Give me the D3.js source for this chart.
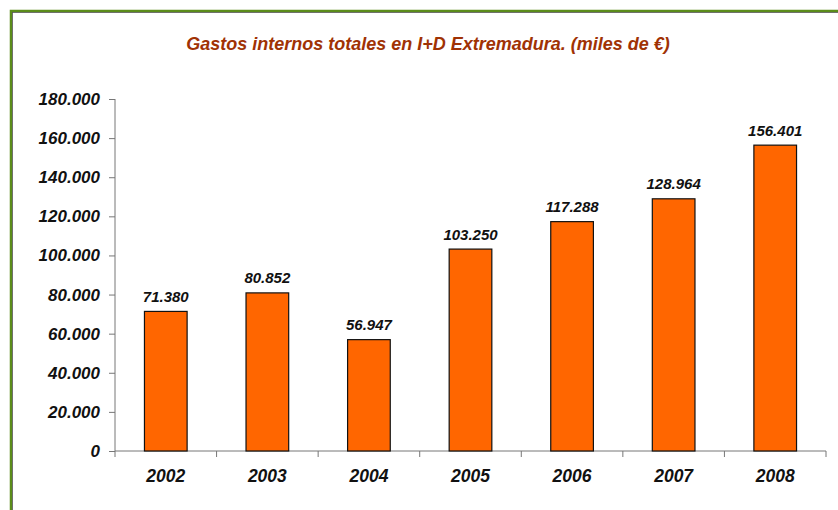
<!DOCTYPE html>
<html>
<head>
<meta charset="utf-8">
<script src="https://cdn.jsdelivr.net/npm/d3@7"></script>
<style>
  body { margin: 0; background: #fff; }
  text { font-family: "Liberation Sans", Arial, sans-serif; font-weight: bold; font-style: italic; }
</style>
</head>
<body>
<svg class="chart" width="838" height="510"></svg>
<script>
const years = ['2002', '2003', '2004', '2005', '2006', '2007', '2008']
const gastos = [71380, 80852, 56947, 103250, 117288, 128964, 156401]
const yTicks = [0, 20000, 40000, 60000, 80000, 100000, 120000, 140000, 160000, 180000]
const title = 'Gastos internos totales en I+D Extremadura. (miles de €)'

const fmt = d3.formatLocale({ decimal: ',', thousands: '.', grouping: [3], currency: ['', '€'] }).format(',d')

const svg = d3.select('.chart')

// marco verde
svg.append('rect')
.attr('x', 11).attr('y', 11)
.attr('width', 840).attr('height', 510)
.attr('fill', 'none')
.attr('stroke', '#5b8c1a')
.attr('stroke-width', 2.5)
svg.append('rect')
.attr('x', 12.5).attr('y', 12.5)
.attr('width', 840).attr('height', 510)
.attr('fill', 'none')
.attr('stroke', '#555')
.attr('stroke-width', 0.8)

const x = d3.scaleBand()
.domain(years)
.range([115, 826])
.padding(0)

const y = d3.scaleLinear()
.domain([0, 180000])
.range([451, 99])

const barW = x.bandwidth() * 0.42

svg.append('text')
.attr('x', 428)
.attr('y', 50)
.attr('text-anchor', 'middle')
.attr('fill', '#a03204')
.style('font-size', '18px')
.text(title)

// eje y
const yAxis = svg.append('g')
.attr('transform', 'translate(115,0)')
.call(d3.axisLeft(y).tickValues(yTicks).tickFormat(fmt).tickSize(6).tickPadding(9))
yAxis.select('.domain').attr('stroke', '#777').attr('d', 'M0,99V451')
yAxis.selectAll('.tick line').attr('stroke', '#777')
yAxis.selectAll('.tick text')
.attr('fill', '#111')
.style('font-size', '17px')
.style('font-family', '"Liberation Sans", Arial, sans-serif')

// eje x
svg.append('line')
.attr('x1', 115).attr('x2', 826)
.attr('y1', y(0)).attr('y2', y(0))
.attr('stroke', '#777')
svg.append('g')
.selectAll('line')
.data(years)
.enter()
.append('line')
.attr('x1', d => x(d) + x.bandwidth()).attr('x2', d => x(d) + x.bandwidth())
.attr('y1', y(0)).attr('y2', y(0) + 6)
.attr('stroke', '#777')
svg.append('line')
.attr('x1', 115).attr('x2', 115)
.attr('y1', y(0)).attr('y2', y(0) + 6)
.attr('stroke', '#777')

svg.append('g')
.selectAll('text')
.data(years)
.enter()
.append('text')
.attr('x', d => x(d) + x.bandwidth() / 2)
.attr('y', 482)
.attr('text-anchor', 'middle')
.attr('fill', '#111')
.style('font-size', '17.5px')
.text(d => d)

// barras
svg.append('g')
.selectAll('rect')
.data(gastos)
.enter()
.append('rect')
.attr('x', (d, i) => x(years[i]) + (x.bandwidth() - barW) / 2)
.attr('y', d => y(d))
.attr('width', barW)
.attr('height', d => y(0) - y(d))
.attr('fill', '#ff6600')
.attr('stroke', '#111')
.attr('stroke-width', 1.2)

svg.append('g')
.selectAll('text')
.data(gastos)
.enter()
.append('text')
.attr('x', (d, i) => x(years[i]) + x.bandwidth() / 2)
.attr('y', d => y(d) - 9.5)
.attr('text-anchor', 'middle')
.attr('fill', '#111')
.style('font-size', '15px')
.text(d => fmt(d))
</script>
</body>
</html>
